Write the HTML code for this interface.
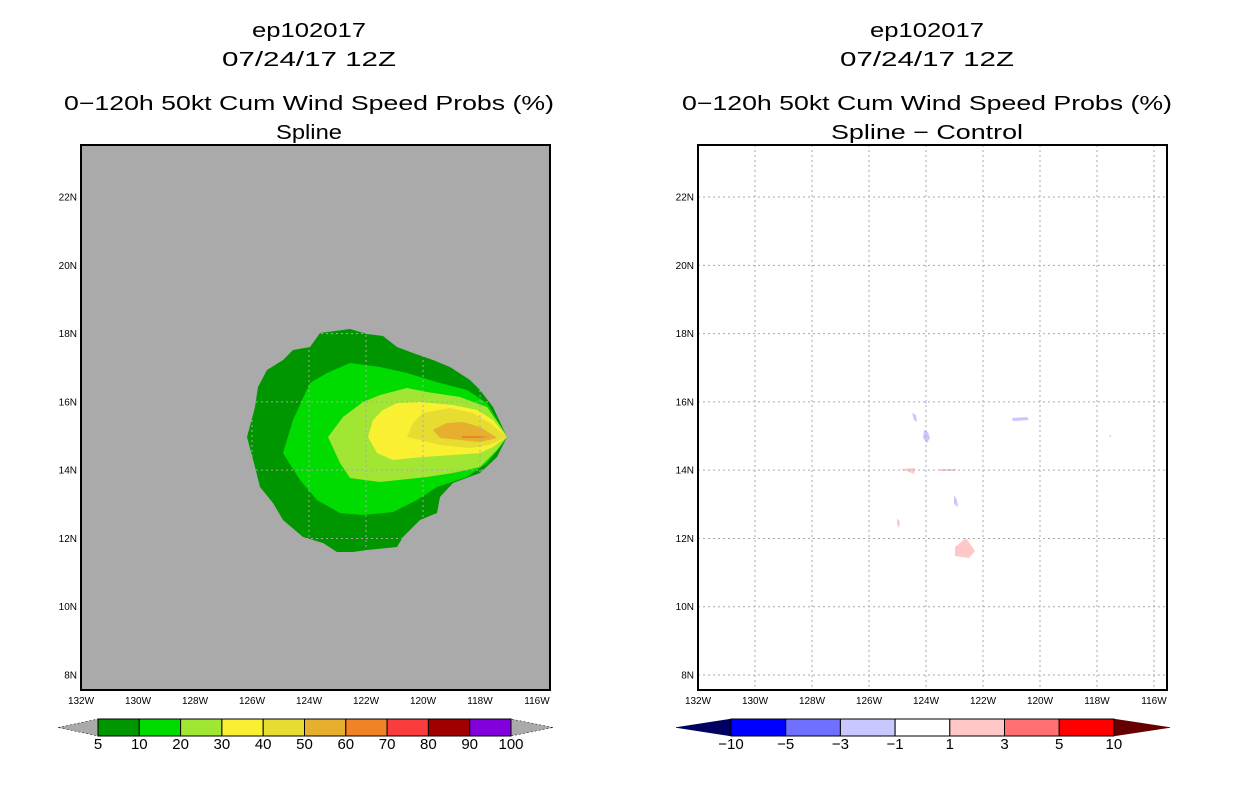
<!DOCTYPE html>
<html><head><meta charset="utf-8"><style>
html,body{margin:0;padding:0;background:#fff;width:1236px;height:800px;overflow:hidden}
svg text{font-family:"Liberation Sans",sans-serif}
</style></head><body>
<svg width="1236" height="800">
<g id="titles"></g>
<g id="left"></g>
<g id="right"></g>
</svg>
<script>
const NS='http://www.w3.org/2000/svg';
const lonTicks=[132,130,128,126,124,122,120,118,116];
const latTicks=[8,10,12,14,16,18,20,22];
const probLevels=[5,10,20,30,40,50,60,70,80,90,100];
const probColors=['#009600','#00dc00','#a0e632','#faf032','#e6dc32','#e6af2d','#f08228','#fa3c3c','#a00000','#8200dc'];
const diffLevels=[-10,-5,-3,-1,1,3,5,10];
const diffColors=['#0000ff','#7070ff','#c8c8ff','#ffffff','#ffc8c8','#ff7070','#ff0000'];
const c5=[[320,333],[350,329],[367,334],[383,336],[397,347],[413,353],[433,360],[450,367],[470,380],[480,390],[493,407],[507,437],[497,457],[480,473],[453,483],[440,497],[437,513],[420,520],[403,537],[397,547],[367,550],[353,552],[337,552],[323,543],[303,537],[283,520],[273,503],[260,487],[255,467],[247,437],[255,407],[258,387],[267,370],[283,360],[293,350],[310,347]];
const c10=[[350,363],[380,367],[407,373],[440,383],[467,390],[487,403],[503,430],[507,437],[500,447],[487,463],[467,477],[437,487],[417,500],[393,512],[363,515],[340,513],[317,500],[300,480],[283,453],[293,420],[310,383],[327,373]];
const c20=[[407,388],[427,392],[460,397],[487,407],[503,430],[507,437],[497,450],[480,467],[453,473],[427,477],[380,482],[350,478],[340,463],[328,437],[343,417],[363,402],[380,395]];
const c30=[[397,403],[420,402],[453,405],[477,410],[493,420],[507,437],[493,447],[480,453],[453,455],[423,457],[393,460],[377,453],[368,437],[373,420],[383,410]];
const c40=[[423,413],[450,408],[473,413],[490,423],[507,437],[490,445],[470,448],[440,445],[420,440],[407,437],[413,423]];
const c50=[[447,423],[463,422],[480,427],[493,435],[497,438],[480,442],[460,440],[440,438],[433,430]];
const c60=[[462,436],[480,436],[488,437],[480,438],[462,438]];
const contours=[c5,c10,c20,c30,c40,c50,c60];
const negPatches=[[[295,413],[299,415],[300,422],[297,420]],[[307,430],[311,432],[313,438],[310,443],[306,438]],[[395,418],[410,417],[412,420],[396,421]],[[337,495],[340,500],[341,507],[337,504]],[[492,435],[495,436],[493,437]],[[307,402],[310,402],[309,404]]];
const posPatches=[[[283,469],[298,468],[297,474],[290,471]],[[323,469],[340,469],[338,471],[323,471]],[[280,518],[283,522],[282,528],[280,524]],[[338,547],[349,538],[358,551],[352,558],[338,556]]];

function el(p,tag,attrs,name,txt){const e=document.createElementNS(NS,tag);for(const k in attrs)e.setAttribute(k,attrs[k]);


if(txt!==undefined)e.textContent=txt;p.appendChild(e);return e;}
const L=81,R=550,T=145,B=690;
const xs=lon=>L+(132-lon)*28.5;
const ys=lat=>675-(lat-8)*34.14;
function tt(g,cx,y,len,name,txt){el(g,'text',{x:cx-len/2,y:y,'font-size':20,textLength:len,lengthAdjust:'spacingAndGlyphs'},name,txt);}
function titles(cx,sub,sublen){const g=document.getElementById('titles');
tt(g,cx,37,114,'storm-id','ep102017');
tt(g,cx,66,174,'date-title','07/24/17 12Z');
tt(g,cx,110,490,'main-title','0\u2212120h 50kt Cum Wind Speed Probs (%)');
tt(g,cx,139,sublen,'subtitle',sub);}
titles(309,'Spline',66);titles(927,'Spline \u2212 Control',192);
function panel(g,off,bg){el(g,'rect',{x:L+off,y:T,width:R-L,height:B-T,fill:bg},'plot-background');}
function axes(g,off,gridCol){
 lonTicks.forEach(lon=>{const x=xs(lon)+off;
  if(lon<132) el(g,'line',{x1:x,y1:T,x2:x,y2:B,stroke:gridCol,'stroke-width':1,'stroke-dasharray':'2,3'},'lon-gridline');
  el(g,'text',{x:x,y:704,'text-anchor':'middle','font-size':10},'x-tick-label',lon+'W');});
 latTicks.forEach(lat=>{const y=ys(lat);
  el(g,'line',{x1:L+off,y1:y,x2:R+off,y2:y,stroke:gridCol,'stroke-width':1,'stroke-dasharray':'2,3'},'lat-gridline');
  el(g,'text',{x:L+off-4,y:y+3.5,'text-anchor':'end','font-size':10},'y-tick-label',lat+'N');});
 el(g,'rect',{x:L+off,y:T,width:R-L,height:B-T,fill:'none',stroke:'#000','stroke-width':2},'plot-frame');}
function poly(g,pts,off,fill,name){el(g,'polygon',{points:pts.map(p=>(p[0]+off)+','+p[1]).join(' '),fill:fill},name);}
const gl=document.getElementById('left');
panel(gl,0,'#aaaaaa');
contours.forEach((c,i)=>poly(gl,c,0,probColors[i],'contour-'+probLevels[i]));
axes(gl,0,'#aaaaaa');
const gr=document.getElementById('right');
panel(gr,617,'#ffffff');
negPatches.forEach(p=>poly(gr,p,617,'#c8c8ff','negative-diff-patch'));
posPatches.forEach(p=>poly(gr,p,617,'#ffc8c8','positive-diff-patch'));
axes(gr,617,'#aaaaaa');
function cbar(g,x0,w,levels,colors,tipL,tipR,lc,rc,name){const y0=719,h=17;
 const x1=x0+w*colors.length;
 el(g,'polygon',{points:`${tipL},${y0+h/2} ${x0},${y0} ${x0},${y0+h}`,fill:lc,stroke:lc==='#aaaaaa'?'#000':lc,'stroke-width':0.5,'stroke-dasharray':lc==='#aaaaaa'?'2,2':''},name+'-low-arrow');
 el(g,'polygon',{points:`${tipR},${y0+h/2} ${x1},${y0} ${x1},${y0+h}`,fill:rc,stroke:rc==='#aaaaaa'?'#000':rc,'stroke-width':0.5,'stroke-dasharray':rc==='#aaaaaa'?'2,2':''},name+'-high-arrow');
 colors.forEach((c,i)=>el(g,'rect',{x:x0+i*w,y:y0,width:w,height:h,fill:c,stroke:'#000','stroke-width':1},name+'-box'));
 levels.forEach((v,i)=>el(g,'text',{x:x0+i*w,y:749,'text-anchor':'middle','font-size':15},name+'-label',String(v).replace('-','\u2212')));}
cbar(gl,98,41.3,probLevels,probColors,58,553,'#aaaaaa','#aaaaaa','prob-colorbar');
cbar(gr,731,54.7,diffLevels,diffColors,676,1170,'#000060','#660000','diff-colorbar');
</script>
</body></html>
